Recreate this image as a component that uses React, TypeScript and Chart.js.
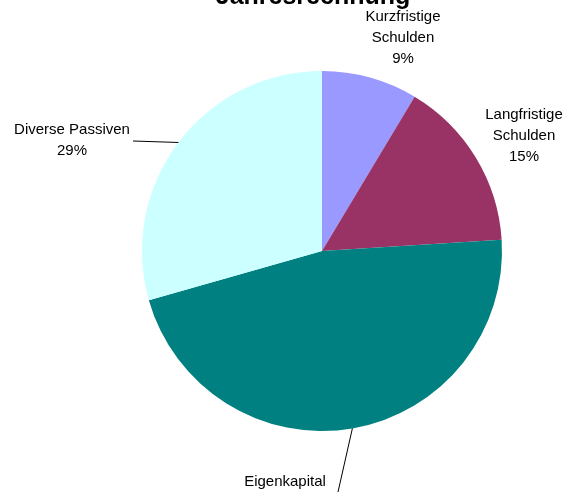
import React, { useEffect, useRef } from "react";
import { Chart, registerables } from "chart.js";

Chart.register(...registerables);

const title = "Jahresrechnung";
const categories = ["Kurzfristige Schulden", "Langfristige Schulden", "Eigenkapital", "Diverse Passiven"];
const labelLines = [["Kurzfristige", "Schulden"], ["Langfristige", "Schulden"], ["Eigenkapital"], ["Diverse Passiven"]];
const values = [8.6, 15.4, 46.6, 29.4];
const colors = ["#9999FF", "#993366", "#008080", "#CCFFFF"];

// label layout: text centre of first line, and optional leader-line end
const labelLayout = [
  { x: 403, y: 17, lead: null as null | [number, number] },
  { x: 524, y: 115, lead: null as null | [number, number] },
  { x: 285, y: 482, lead: [338, 492] as [number, number] },
  { x: 72, y: 130, lead: [133, 141] as [number, number] },
];

const FONT = '15px "Liberation Sans", Arial, sans-serif';
const LINE_H = 21;

const labelPlugin = {
  id: "pieLabels",
  afterDraw(chart: any) {
    const ctx = chart.ctx as CanvasRenderingContext2D;
    const meta = chart.getDatasetMeta(0);
    const total = values.reduce((a, b) => a + b, 0);
    ctx.save();
    // title
    ctx.fillStyle = "#000";
    ctx.font = 'bold 25px "Liberation Sans", Arial, sans-serif';
    ctx.textAlign = "center";
    ctx.textBaseline = "alphabetic";
    ctx.fillText(title, 313, 4);
    ctx.font = FONT;
    ctx.textBaseline = "middle";
    meta.data.forEach((arc: any, i: number) => {
      const { x, y, startAngle, endAngle, outerRadius } = arc.getProps(
        ["x", "y", "startAngle", "endAngle", "outerRadius"],
        true
      );
      const L = labelLayout[i];
      const lines = [...labelLines[i], Math.round((values[i] / total) * 100) + "%"];
      lines.forEach((t, k) => ctx.fillText(t, L.x, L.y + k * LINE_H));
      if (L.lead) {
        const mid = (startAngle + endAngle) / 2;
        const px = x + Math.cos(mid) * outerRadius;
        const py = y + Math.sin(mid) * outerRadius;
        ctx.strokeStyle = "#000";
        ctx.lineWidth = 1;
        ctx.beginPath();
        ctx.moveTo(px, py);
        ctx.lineTo(L.lead[0], L.lead[1]);
        ctx.stroke();
      }
    });
    ctx.restore();
  },
};

export default function App() {
  const ref = useRef<HTMLCanvasElement>(null);
  useEffect(() => {
    if (!ref.current) return;
    const chart = new Chart(ref.current, {
      type: "pie",
      data: {
        labels: categories,
        datasets: [
          {
            data: values,
            backgroundColor: colors,
            borderWidth: 0,
          },
        ],
      },
      options: {
        animation: false,
        responsive: false,
        maintainAspectRatio: false,
        layout: { padding: { left: 142, right: 70, top: 71, bottom: 61 } },
        plugins: {
          legend: { display: false },
          title: { display: false },
          tooltip: { enabled: false },
        },
      },
      plugins: [labelPlugin],
    });
    return () => chart.destroy();
  }, []);
  return (
    <div style={{ position: "fixed", left: 0, top: 0, width: 572, height: 492, background: "#fff" }}>
      <canvas ref={ref} width={572} height={492} style={{ width: 572, height: 492 }} />
    </div>
  );
}
